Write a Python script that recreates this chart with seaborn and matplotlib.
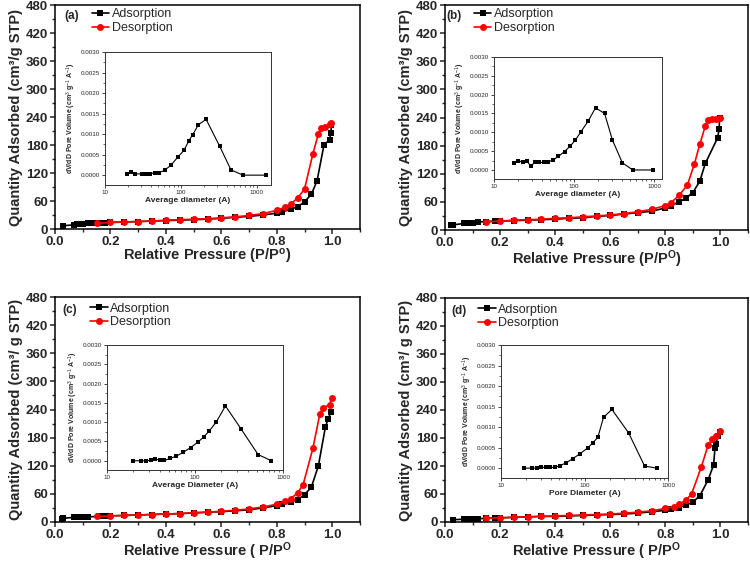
import numpy as np
import seaborn as sns
from matplotlib import pyplot as plt
from matplotlib.ticker import MultipleLocator, FixedLocator, FormatStrFormatter, LogLocator, NullFormatter

# ---- isotherm data (P/P0, quantity adsorbed) ----
p_ads_a = [0.03, 0.07, 0.08, 0.09, 0.10, 0.12, 0.14, 0.16, 0.18, 0.20, 0.25, 0.30, 0.35, 0.40, 0.45, 0.50,
           0.55, 0.60, 0.65, 0.70, 0.75, 0.80, 0.82, 0.85, 0.875, 0.90, 0.925, 0.945, 0.97, 0.99, 0.995, 0.997]
q_ads_a = [7, 9, 10, 10, 11, 12, 12, 13, 13, 14, 15, 16, 17, 18, 19, 20,
           21, 23, 25, 27, 30, 34, 37, 42, 48, 58, 75, 103, 180, 191, 206, 222]
p_des_a = [0.997, 0.99, 0.975, 0.96, 0.95, 0.93, 0.90, 0.875, 0.85, 0.83, 0.80, 0.75, 0.70, 0.65, 0.60,
           0.55, 0.50, 0.45, 0.40, 0.35, 0.30, 0.25, 0.20, 0.15]
q_des_a = [228, 224, 218, 217, 204, 161, 86, 66, 54, 47, 40, 33, 29, 26, 24,
           22, 21, 20, 19, 17, 16, 15, 14, 12]

p_ads_b = [0.02, 0.03, 0.07, 0.08, 0.10, 0.12, 0.15, 0.18, 0.20, 0.25, 0.30, 0.35, 0.40, 0.45, 0.50, 0.55,
           0.60, 0.65, 0.70, 0.75, 0.80, 0.82, 0.85, 0.875, 0.90, 0.925, 0.945, 0.99, 0.995, 0.997]
q_ads_b = [10, 11, 14, 15, 16, 17, 18, 19, 19, 20, 21, 22, 23, 25, 26, 29,
           31, 34, 37, 40, 47, 52, 60, 68, 80, 104, 142, 197, 215, 238]
p_des_b = [0.997, 0.985, 0.97, 0.955, 0.945, 0.925, 0.905, 0.88, 0.85, 0.82, 0.80, 0.75, 0.70, 0.65, 0.60,
           0.55, 0.50, 0.45, 0.40, 0.35, 0.30, 0.25, 0.20, 0.15]
q_des_b = [240, 237, 236, 235, 222, 183, 140, 96, 74, 58, 52, 44, 39, 35, 32,
           30, 28, 26, 25, 23, 22, 21, 19, 17]

p_ads_c = [0.025, 0.03, 0.07, 0.08, 0.10, 0.12, 0.16, 0.18, 0.20, 0.25, 0.30, 0.35, 0.40, 0.45, 0.50, 0.55,
           0.60, 0.65, 0.70, 0.75, 0.80, 0.82, 0.85, 0.875, 0.90, 0.925, 0.95, 0.975, 0.985, 0.995]
q_ads_c = [6, 8, 10, 10, 11, 11, 12, 12, 13, 14, 15, 16, 17, 18, 19, 21,
           22, 24, 26, 30, 35, 38, 42, 48, 58, 75, 120, 202, 220, 234]
p_des_c = [0.998, 0.99, 0.965, 0.955, 0.93, 0.895, 0.875, 0.85, 0.83, 0.80, 0.75, 0.70, 0.65, 0.60,
           0.55, 0.50, 0.45, 0.40, 0.35, 0.30, 0.25, 0.20, 0.15]
q_des_c = [265, 250, 243, 230, 157, 80, 62, 50, 45, 38, 32, 28, 25, 23,
           21, 20, 18, 17, 16, 15, 14, 13, 12]

p_ads_d = [0.03, 0.07, 0.08, 0.10, 0.12, 0.15, 0.18, 0.20, 0.25, 0.30, 0.35, 0.40, 0.45, 0.50, 0.55,
           0.60, 0.65, 0.70, 0.75, 0.80, 0.82, 0.85, 0.875, 0.90, 0.925, 0.955, 0.975, 0.98, 0.985, 0.99, 0.997]
q_ads_d = [5, 6, 7, 7, 7, 8, 8, 9, 10, 11, 12, 12, 13, 14, 15,
           16, 17, 19, 22, 25, 28, 31, 36, 43, 56, 90, 122, 158, 168, 185, 193]
p_des_d = [0.998, 0.985, 0.97, 0.955, 0.93, 0.895, 0.875, 0.85, 0.83, 0.80, 0.75, 0.70, 0.65, 0.60,
           0.55, 0.50, 0.45, 0.40, 0.35, 0.30, 0.25, 0.20, 0.15]
q_des_d = [195, 185, 178, 164, 117, 60, 47, 38, 33, 29, 24, 21, 19, 17,
           16, 15, 14, 13, 12, 11, 10, 9, 8]

# ---- pore size distributions (diameter in A, dV/dD) ----
diam_a = [19.3, 21.8, 24.9, 31, 35, 39.6, 45, 52, 61, 73.5, 90, 110, 127, 143, 170, 214, 324, 454, 653, 1327]
psd_a = [0.00004, 0.00007, 0.00003, 0.00003, 0.00003, 0.00003, 0.00006, 0.00006, 0.00012, 0.00024,
         0.00043, 0.00061, 0.00084, 0.00099, 0.00123, 0.00136, 0.0007, 0.00013, 0.0, 0.0]
diam_b = [17.7, 20.2, 22.9, 25.7, 28.8, 32.4, 36.7, 41.6, 47.6, 54.5, 63.5, 76, 90, 104, 122, 150,
          185, 240, 300, 400, 540, 970]
psd_b = [0.00019, 0.00025, 0.0002, 0.00023, 0.00011, 0.0002, 0.0002, 0.0002, 0.00022, 0.00026, 0.00036,
         0.00049, 0.00064, 0.0008, 0.00102, 0.0013, 0.00165, 0.0015, 0.0008, 0.00019, 0.0, 0.0]
diam_c = [19.5, 24.5, 27.6, 31.5, 35.2, 39.8, 45, 52, 61.5, 73.8, 89, 109, 126, 145, 174, 222, 337, 521, 738]
psd_c = [0.0, 0.0, 0.0, 0.00001, 0.00005, 0.00001, 0.00001, 0.00006, 0.00012, 0.00022, 0.00034,
         0.00049, 0.00062, 0.00077, 0.001, 0.00142, 0.00081, 0.00016, 0.0]
diam_d = [18.7, 23.3, 26.8, 30.2, 34.4, 39, 44.5, 50.6, 60.3, 72.4, 88, 109, 126, 144.5, 169, 213, 337, 525, 738]
psd_d = [0.0, 0.0, 0.0, 0.00002, 0.00002, 0.00002, 0.00002, 0.00006, 0.00013, 0.00023, 0.00035,
         0.00049, 0.00062, 0.00075, 0.00124, 0.00143, 0.00086, 0.00005, 0.0]

panel_tags = ["(a)", "(b)", "(c)", "(d)"]
ylabels = ["Quantity Adsorbed (cm\u00b3/g STP)", "Quantity Adsorbed (cm\u00b3/g STP)",
           "Quantity Adsorbed (cm\u00b3/ g STP)", "Quantity Adsorbed (cm\u00b3/ g STP)"]
xlabels = [r"Relative Pressure (P/P$^\mathbf{o}$)", r"Relative Pressure (P/P$^\mathbf{O}$)",
           r"Relative Pressure ( P/P$^\mathbf{O}$", r"Relative Pressure ( P/P$^\mathbf{O}$"]
inset_xlabels = ["Average diameter (A)", "Average diameter (A)", "Average Diameter (A)", "Pore Diameter (A)"]
inset_ylabel = r"dV/dD Pore Volume (cm$^3$ g$^{-1}$ A$^{-1}$)"

W, H = 750, 563
# pixel boxes (left, right, top, bottom)
main_boxes = [(55, 360, 5, 229), (445, 748, 5, 230), (55, 360, 297, 522), (445, 748, 298, 522)]
inset_boxes = [(105, 271, 52, 185), (494, 662, 57, 179), (107, 283, 345, 470), (501, 668, 345, 478)]
inset_xmax = [1530, 1250, 1000, 1000]
legend_anchor = [(0.12, 0.985), (0.095, 0.985), (0.115, 0.975), (0.11, 0.975)]

sns.set_style("ticks")
plt.rcParams['font.family'] = ['Liberation Sans', 'DejaVu Sans']
plt.rcParams['mathtext.fontset'] = 'custom'
plt.rcParams['mathtext.rm'] = 'Liberation Sans'
plt.rcParams['mathtext.bf'] = 'Liberation Sans:bold'
plt.rcParams['mathtext.it'] = 'Liberation Sans:italic'


def px_box(box):
    l, r, t, b = box
    return [l / W, 1 - b / H, (r - l) / W, (b - t) / H]


def draw_panel(fig, i, p_ads, q_ads, p_des, q_des, diam, psd):
    ax = fig.add_axes(px_box(main_boxes[i]))
    sns.lineplot(x=p_ads, y=q_ads, ax=ax, sort=False, estimator=None, color="black", marker="s",
                 markersize=5, markeredgewidth=0, linewidth=1.2, label="Adsorption")
    sns.lineplot(x=p_des, y=q_des, ax=ax, sort=False, estimator=None, color="#ff0000", marker="o",
                 markersize=5, markeredgewidth=0, linewidth=1.2, label="Desorption")
    ax.set_xlim(0, 1.1)
    ax.set_ylim(0, 480)
    ax.xaxis.set_major_locator(FixedLocator([0.0, 0.2, 0.4, 0.6, 0.8, 1.0]))
    ax.xaxis.set_major_formatter(FormatStrFormatter("%.1f"))
    ax.xaxis.set_minor_locator(MultipleLocator(0.1))
    ax.yaxis.set_major_locator(MultipleLocator(60))
    ax.yaxis.set_minor_locator(MultipleLocator(30))
    ax.tick_params(which="major", direction="out", length=3.5, width=1.1, labelsize=9.5, pad=1.5)
    ax.tick_params(which="minor", direction="out", length=2.2, width=1.0)
    for lab in ax.get_xticklabels() + ax.get_yticklabels():
        lab.set_fontweight("bold")
    for s in ax.spines.values():
        s.set_linewidth(1.1)
        s.set_color("black")
    ax.set_xlabel(xlabels[i], fontsize=10.5, fontweight="bold", labelpad=-0.5)
    ax.set_ylabel(ylabels[i], fontsize=10.5, fontweight="bold", labelpad=2)
    ax.legend(loc="upper left", bbox_to_anchor=legend_anchor[i], frameon=False, fontsize=9,
              handlelength=1.4, handletextpad=0.2, labelspacing=0.15, borderpad=0, borderaxespad=0)
    ax.text(legend_anchor[i][0] - 0.09, legend_anchor[i][1] - 0.035, panel_tags[i], transform=ax.transAxes,
            fontsize=8.5, fontweight="bold", va="center", ha="left")

    ins = fig.add_axes(px_box(inset_boxes[i]))
    sns.lineplot(x=diam, y=psd, ax=ins, sort=False, estimator=None, color="black", marker="s",
                 markersize=2.6, markeredgewidth=0, linewidth=0.8)
    ins.set_xscale("log")
    ins.set_xlim(10, inset_xmax[i])
    ins.set_ylim(-0.00024, 0.0030)
    ins.yaxis.set_major_locator(MultipleLocator(0.0005))
    ins.yaxis.set_minor_locator(MultipleLocator(0.00025))
    ins.yaxis.set_major_formatter(FormatStrFormatter("%.4f"))
    ins.xaxis.set_major_locator(LogLocator(base=10))
    ins.xaxis.set_minor_locator(LogLocator(base=10, subs=np.arange(2, 10)))
    ins.xaxis.set_minor_formatter(NullFormatter())
    ins.xaxis.set_major_formatter(FormatStrFormatter("%d"))
    ins.tick_params(which="major", direction="out", length=2, width=0.6, labelsize=4.5, pad=1.5)
    ins.tick_params(which="minor", direction="out", length=1.2, width=0.5)
    for s in ins.spines.values():
        s.set_linewidth(0.7)
        s.set_color("#333333")
    ins.set_xlabel(inset_xlabels[i], fontsize=6, fontweight="bold", labelpad=1.5)
    ins.set_ylabel(inset_ylabel, fontsize=5, fontweight="bold", labelpad=2)


fig = plt.figure(figsize=(7.5, 5.63), dpi=100)
draw_panel(fig, 0, p_ads_a, q_ads_a, p_des_a, q_des_a, diam_a, psd_a)
draw_panel(fig, 1, p_ads_b, q_ads_b, p_des_b, q_des_b, diam_b, psd_b)
draw_panel(fig, 2, p_ads_c, q_ads_c, p_des_c, q_des_c, diam_c, psd_c)
draw_panel(fig, 3, p_ads_d, q_ads_d, p_des_d, q_des_d, diam_d, psd_d)
fig.savefig("out.png", dpi=100)
